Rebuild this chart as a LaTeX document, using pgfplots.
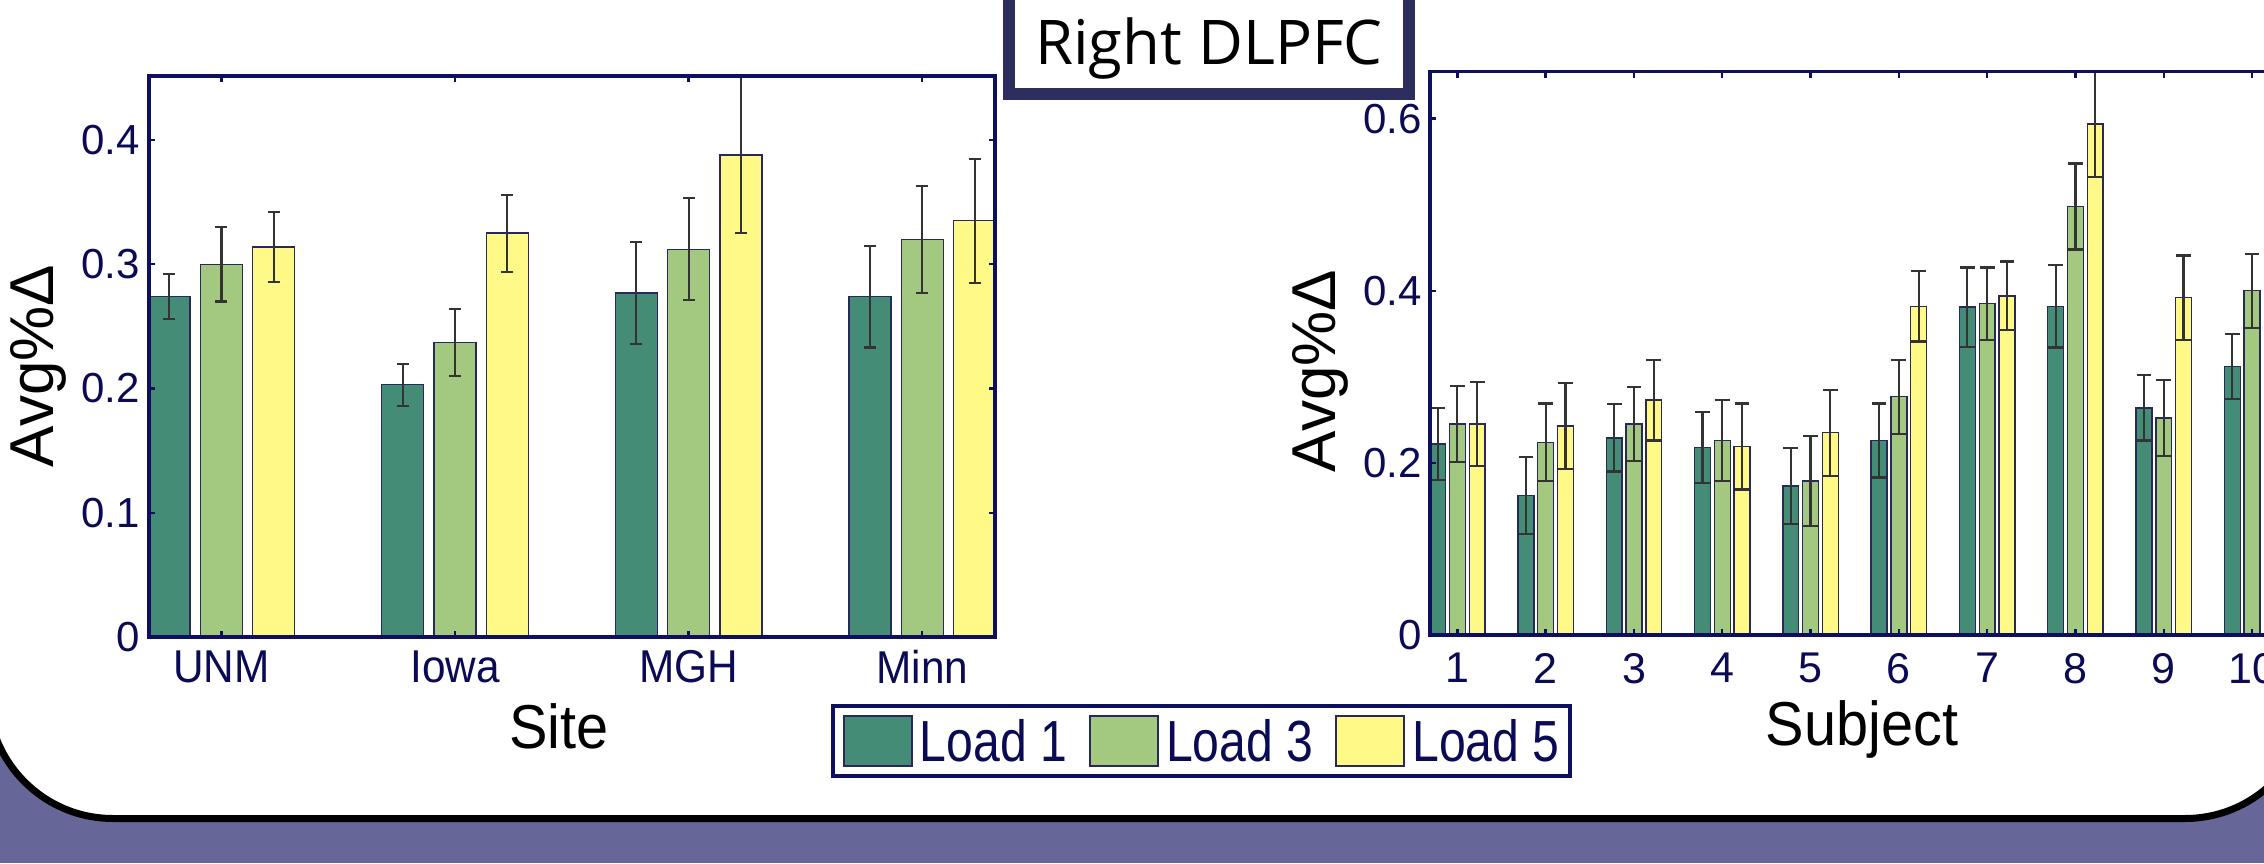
\documentclass[border=0pt]{standalone}
\usepackage{pgfplots}
\pgfplotsset{compat=1.18}
\usepackage{fontspec}
\setmainfont{Liberation Sans}
\newfontfamily\titlefont{Open Sans}
\definecolor{bgpurple}{RGB}{102,102,153}
\definecolor{navyax}{RGB}{15,15,95}
\definecolor{navytxt}{RGB}{10,10,85}
\definecolor{boxnavy}{RGB}{46,46,94}
\definecolor{cA}{RGB}{68,140,118}
\definecolor{cB}{RGB}{163,200,128}
\definecolor{cC}{RGB}{255,249,135}
\definecolor{edge}{RGB}{40,40,90}

\pgfplotsset{
  mybars/.style={
    ybar, scale only axis, bar width=0.18, ymin=0,
    axis on top,
    axis line style={navyax, line width=1.8pt},
    tick style={navyax, line width=1.2pt}, major tick length=3pt, tick align=inside,
    yticklabel style={font=\fontsize{21}{25}\selectfont, text=navytxt, inner sep=0pt, anchor=east, xshift=-4.5pt},
    xticklabel style={text=navytxt, inner sep=0pt, anchor=north},
    label style={font=\fontsize{31}{36}\selectfont, text=black},
    legend image code/.code={\draw[#1, line width=0.8pt, draw=edge] (0pt,-2.15pt) rectangle (34pt,22.85pt);},
  },
  eb/.style={error bars/.cd, y dir=both, y explicit,
    error bar style={black!80, line width=1.1pt},
    error mark options={rotate=90, mark size=#1, black!80, line width=1.1pt}},
}

\begin{document}
\begin{tikzpicture}
\fill[bgpurple] (0,0) rectangle (1132pt,431.5pt);
\begin{scope}
\clip (0,0) rectangle (1132pt,431.5pt);
\draw[black, line width=3.5pt, fill=white, rounded corners=62.5pt] (-6pt,22.25pt) rectangle (1155pt,520pt);

% ---------- left axis: Site ----------
\begin{axis}[mybars,
  at={(74.5pt,113pt)}, anchor=south west,
  width=422.85pt, height=280.5pt,
  xmin=0.69, xmax=4.31, ymax=0.4515,
  xtick={1,2,3,4},
  xticklabels={\scalebox{0.92}[1]{UNM},\scalebox{0.92}[1]{Iowa},\scalebox{0.92}[1]{MGH},\scalebox{0.92}[1]{Minn}},
  xticklabel style={font=\fontsize{23}{27}\selectfont, yshift=-6.5pt},
  ytick={0,0.1,0.2,0.3,0.4},
  yticklabels={0,0.1,0.2,0.3,0.4},
  xlabel={\scalebox{0.93}[1]{Site}},
  xlabel style={at={(axis description cs:0.4848,-0.1979)}, anchor=base},
  ylabel={Avg\%Δ},
  ylabel style={at={(axis description cs:-0.1312,0.483)}, anchor=center},
  legend columns=3,
  legend style={at={(axis description cs:0.8064,-0.1194)}, anchor=north west,
    draw=navyax, line width=2pt, fill=white, inner xsep=5pt, inner ysep=4.5pt,
    font=\fontsize{29}{34}\selectfont, text=navytxt,
    nodes={inner sep=0pt, anchor=base west},
    cells={anchor=base west},
    /tikz/every even column/.append style={column sep=11pt},
    /tikz/every odd column/.append style={column sep=3.7pt}},
]
\addplot[fill=cA, draw=edge, line width=0.7pt, bar shift=-0.224, eb=3pt] coordinates {
  (1,0.274) +- (0,0.018)
  (2,0.203) +- (0,0.017)
  (3,0.277) +- (0,0.041)
  (4,0.274) +- (0,0.041)
};
\addplot[fill=cB, draw=edge, line width=0.7pt, bar shift=0, eb=3pt] coordinates {
  (1,0.300) +- (0,0.030)
  (2,0.237) +- (0,0.027)
  (3,0.312) +- (0,0.041)
  (4,0.320) +- (0,0.043)
};
\addplot[fill=cC, draw=edge, line width=0.7pt, bar shift=0.224, eb=3pt] coordinates {
  (1,0.314) +- (0,0.028)
  (2,0.325) +- (0,0.031)
  (3,0.388) +- (0,0.063)
  (4,0.335) +- (0,0.050)
};
\addlegendentry{\scalebox{0.83}[1]{Load 1}}
\addlegendentry{\scalebox{0.83}[1]{Load 3}}
\addlegendentry{\scalebox{0.83}[1]{Load 5}}
\end{axis}

% ---------- right axis: Subject ----------
\begin{axis}[mybars,
  at={(715pt,114pt)}, anchor=south west,
  width=513pt, height=281.65pt,
  xmin=0.69, xmax=12.31, ymax=0.6546,
  xtick={1,2,3,4,5,6,7,8,9,10},
  xticklabels={1,2,3,4,5,6,7,8,9,10},
  xticklabel style={font=\fontsize{21.5}{26}\selectfont, yshift=-9pt},
  ytick={0,0.2,0.4,0.6},
  yticklabels={0,0.2,0.4,0.6},
  yticklabel style={xshift=0.5pt},
  xlabel={\scalebox{0.93}[1]{Subject}},
  xlabel style={at={(axis description cs:0.421,-0.1953)}, anchor=base},
  ylabel={Avg\%Δ},
  ylabel style={at={(axis description cs:-0.1072,0.4687)}, anchor=center},
]
\addplot[fill=cA, draw=edge, line width=0.7pt, bar shift=-0.224, eb=3.7pt] coordinates {
  (1,0.222) +- (0,0.042)
  (2,0.162) +- (0,0.045)
  (3,0.229) +- (0,0.039)
  (4,0.218) +- (0,0.041)
  (5,0.173) +- (0,0.044)
  (6,0.226) +- (0,0.043)
  (7,0.381) +- (0,0.046)
  (8,0.382) +- (0,0.048)
  (9,0.264) +- (0,0.038)
  (10,0.312) +- (0,0.038)
};
\addplot[fill=cB, draw=edge, line width=0.7pt, bar shift=0, eb=3.7pt] coordinates {
  (1,0.245) +- (0,0.044)
  (2,0.224) +- (0,0.045)
  (3,0.245) +- (0,0.043)
  (4,0.226) +- (0,0.047)
  (5,0.179) +- (0,0.052)
  (6,0.277) +- (0,0.043)
  (7,0.385) +- (0,0.042)
  (8,0.498) +- (0,0.050)
  (9,0.252) +- (0,0.044)
  (10,0.400) +- (0,0.043)
};
\addplot[fill=cC, draw=edge, line width=0.7pt, bar shift=0.224, eb=3.7pt] coordinates {
  (1,0.245) +- (0,0.049)
  (2,0.243) +- (0,0.050)
  (3,0.273) +- (0,0.047)
  (4,0.219) +- (0,0.050)
  (5,0.235) +- (0,0.050)
  (6,0.382) +- (0,0.041)
  (7,0.394) +- (0,0.040)
  (8,0.594) +- (0,0.062)
  (9,0.392) +- (0,0.049)
};
\end{axis}

% ---------- title box ----------
\draw[boxnavy, line width=6pt, fill=white] (504.5pt,384.5pt) rectangle (704.5pt,460pt);
\node[anchor=base, inner sep=0pt, font=\titlefont\fontsize{30.8}{36}\selectfont] at (604.5pt,399pt) {Right DLPFC};
\end{scope}
\pgfresetboundingbox
\useasboundingbox (0,0) rectangle (1132pt,431.5pt);
\end{tikzpicture}
\end{document}
